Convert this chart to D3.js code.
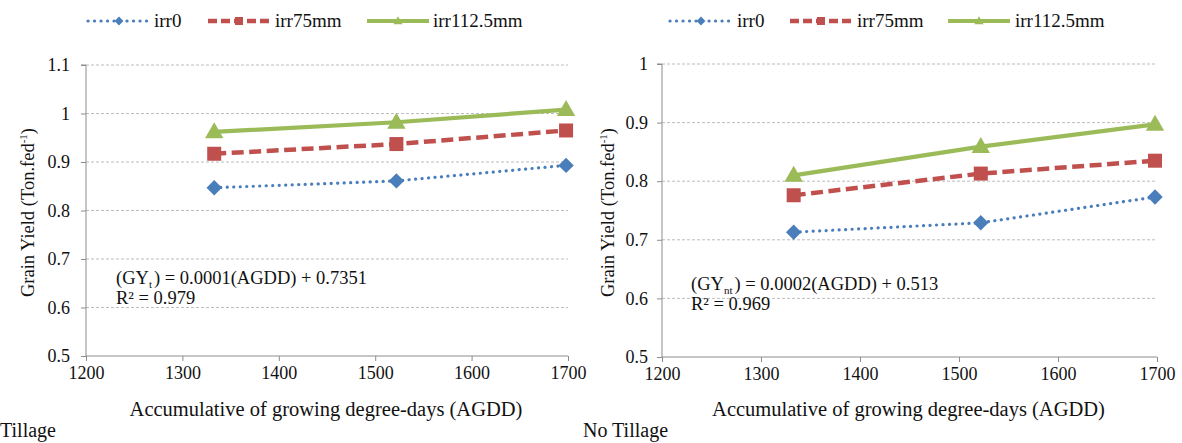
<!DOCTYPE html>
<html><head><meta charset="utf-8">
<script src="https://cdn.jsdelivr.net/npm/d3@7"></script>
<style>
body{margin:0;background:#fff;}
svg text{font-family:"Liberation Serif","Times New Roman","DejaVu Serif",serif !important;}
</style></head>
<body>
<svg id="c" width="1182" height="443"></svg>
<script>
// ---- data ----
const agdd = [1333, 1522, 1698];
const seriesNames = ["irr0", "irr75mm", "irr112.5mm"];
const tillageIrr0 = [0.847, 0.861, 0.893];
const tillageIrr75 = [0.917, 0.937, 0.965];
const tillageIrr112 = [0.962, 0.982, 1.008];
const noTillIrr0 = [0.713, 0.729, 0.773];
const noTillIrr75 = [0.776, 0.813, 0.835];
const noTillIrr112 = [0.810, 0.859, 0.897];
const xTicks = [1200, 1300, 1400, 1500, 1600, 1700];
const yTicksTillage = [0.5, 0.6, 0.7, 0.8, 0.9, 1, 1.1];
const yTicksNoTill = [0.5, 0.6, 0.7, 0.8, 0.9, 1];
const xTitle = "Accumulative of growing degree-days (AGDD)";

const svg = d3.select("#c");
const colors = ["#4a7ebb", "#c0504d", "#9bbb59"];

const panels = [
  {x0: 86, x1: 568, y0: 356, y1: 65, yMax: 1.1, yTicks: yTicksTillage,
   series: [tillageIrr0, tillageIrr75, tillageIrr112], tickPad: 16,
   yLabelX: 28, legendX: [88, 208, 367], legendTextX: [154, 275, 433],
   eq: {x: 116, y: 284, sub: "t"}, r2: "R² = 0.979", eqTail: "= 0.0001(AGDD) + 0.7351",
   title: "Tillage", titleX: 0},
  {x0: 662, x1: 1157, y0: 357, y1: 64, yMax: 1.0, yTicks: yTicksNoTill,
   series: [noTillIrr0, noTillIrr75, noTillIrr112], tickPad: 14,
   yLabelX: 608, legendX: [670, 790, 948], legendTextX: [737, 857, 1015],
   eq: {x: 691, y: 290, sub: "nt"}, r2: "R² = 0.969", eqTail: "= 0.0002(AGDD) + 0.513",
   title: "No Tillage", titleX: 583}
];

function marker(g, i, cx, cy, s) {
  if (i === 0) {
    const h = s * 0.55;
    g.append("path").attr("d", `M${cx},${cy - h}L${cx + h},${cy}L${cx},${cy + h}L${cx - h},${cy}Z`)
      .attr("fill", colors[0]);
  } else if (i === 1) {
    g.append("rect").attr("x", cx - s / 2).attr("y", cy - s / 2).attr("width", s).attr("height", s)
      .attr("fill", colors[1]);
  } else {
    const w = s * 1.15, h = s * 1.0;
    g.append("path").attr("d", `M${cx},${cy - h * 0.6}L${cx + w / 2},${cy + h * 0.4}L${cx - w / 2},${cy + h * 0.4}Z`)
      .attr("fill", colors[2]);
  }
}

const lineStyles = [
  {w: 3.2, dash: "0.1 6.4", cap: "round"},
  {w: 4.5, dash: "12 5.5", cap: "butt"},
  {w: 4.2, dash: null, cap: "butt"}
];

panels.forEach(p => {
  const x = d3.scaleLinear().domain([1200, 1700]).range([p.x0, p.x1]);
  const y = d3.scaleLinear().domain([0.5, p.yMax]).range([p.y0, p.y1]);
  const g = svg.append("g");

  // gridlines
  g.selectAll(".grid").data(p.yTicks.filter(t => t > 0.5)).enter().append("line")
    .attr("x1", p.x0).attr("x2", p.x1).attr("y1", d => y(d)).attr("y2", d => y(d))
    .attr("stroke", "#bdbdbd").attr("stroke-width", 1).attr("stroke-dasharray", "3 2");

  // y axis
  const ya = g.append("g").attr("transform", `translate(${p.x0},0)`)
    .call(d3.axisLeft(y).tickValues(p.yTicks).tickSize(5).tickPadding(p.tickPad - 5).tickFormat(d => String(+d.toFixed(1))));
  ya.select(".domain").attr("stroke", "#8c8c8c").attr("d", `M-5,${p.y1}H0V${p.y0}`);
  ya.selectAll(".tick line").attr("stroke", "#8c8c8c");
  ya.selectAll("text").attr("font-size", 18).attr("fill", "#111");

  // x axis
  const xa = g.append("g").attr("transform", `translate(0,${p.y0})`)
    .call(d3.axisBottom(x).tickValues(xTicks).tickSize(5).tickPadding(5).tickFormat(d3.format("d")));
  xa.select(".domain").attr("stroke", "#8c8c8c").attr("d", `M${p.x0},0H${p.x1}`);
  xa.selectAll(".tick line").attr("stroke", "#8c8c8c");
  xa.selectAll("text").attr("font-size", 18).attr("fill", "#111");

  // lines
  p.series.forEach((vals, i) => {
    const pts = agdd.map((a, j) => [x(a), y(vals[j])]);
    const ls = lineStyles[i];
    g.append("path").attr("d", d3.line()(pts)).attr("fill", "none")
      .attr("stroke", colors[i]).attr("stroke-width", ls.w)
      .attr("stroke-dasharray", ls.dash).attr("stroke-linecap", ls.cap);
    pts.forEach(pt => marker(g, i, pt[0], pt[1], i === 2 ? 16 : 14));
  });

  // legend
  const ly = 21;
  seriesNames.forEach((n, i) => {
    const lx = p.legendX[i], len = 62;
    const ls = lineStyles[i];
    g.append("line").attr("x1", lx).attr("x2", lx + len).attr("y1", ly).attr("y2", ly)
      .attr("stroke", colors[i]).attr("stroke-width", ls.w)
      .attr("stroke-dasharray", i === 1 ? "9 4" : ls.dash).attr("stroke-linecap", ls.cap);
    marker(g, i, lx + len / 2, ly, 8);
    g.append("text").attr("x", p.legendTextX[i]).attr("y", ly + 6).text(n)
      .attr("font-size", 19).attr("fill", "#111");
  });

  // y label
  const yl = g.append("text").attr("transform", `translate(${p.yLabelX + 6},${(p.y0 + p.y1) / 2 + 2}) rotate(-90)`)
    .attr("text-anchor", "middle").attr("font-size", 18.5).attr("fill", "#111");
  yl.append("tspan").text("Grain Yield (Ton.fed");
  yl.append("tspan").text("-1").attr("font-size", 11).attr("dy", -7);
  yl.append("tspan").text(")").attr("dy", 7);

  // x title
  g.append("text").attr("x", (p.x0 + p.x1) / 2 - 1).attr("y", 416).attr("text-anchor", "middle")
    .attr("font-size", 20.5).attr("fill", "#111").text(xTitle);

  // equation
  const eq = g.append("text").attr("x", p.eq.x).attr("y", p.eq.y)
    .attr("font-size", 18.5).attr("fill", "#111");
  eq.append("tspan").text("(GY");
  eq.append("tspan").text(p.eq.sub).attr("font-size", 11).attr("dy", 4);
  eq.append("tspan").text(") " + p.eqTail).attr("dy", -4).attr("dx", 2);
  g.append("text").attr("x", p.eq.x).attr("y", p.eq.y + 20)
    .attr("font-size", 18.5).attr("fill", "#111").text(p.r2);

  // panel title
  g.append("text").attr("x", p.titleX).attr("y", 437)
    .attr("font-size", 20).attr("fill", "#111").text(p.title);
});
</script>
</body></html>
